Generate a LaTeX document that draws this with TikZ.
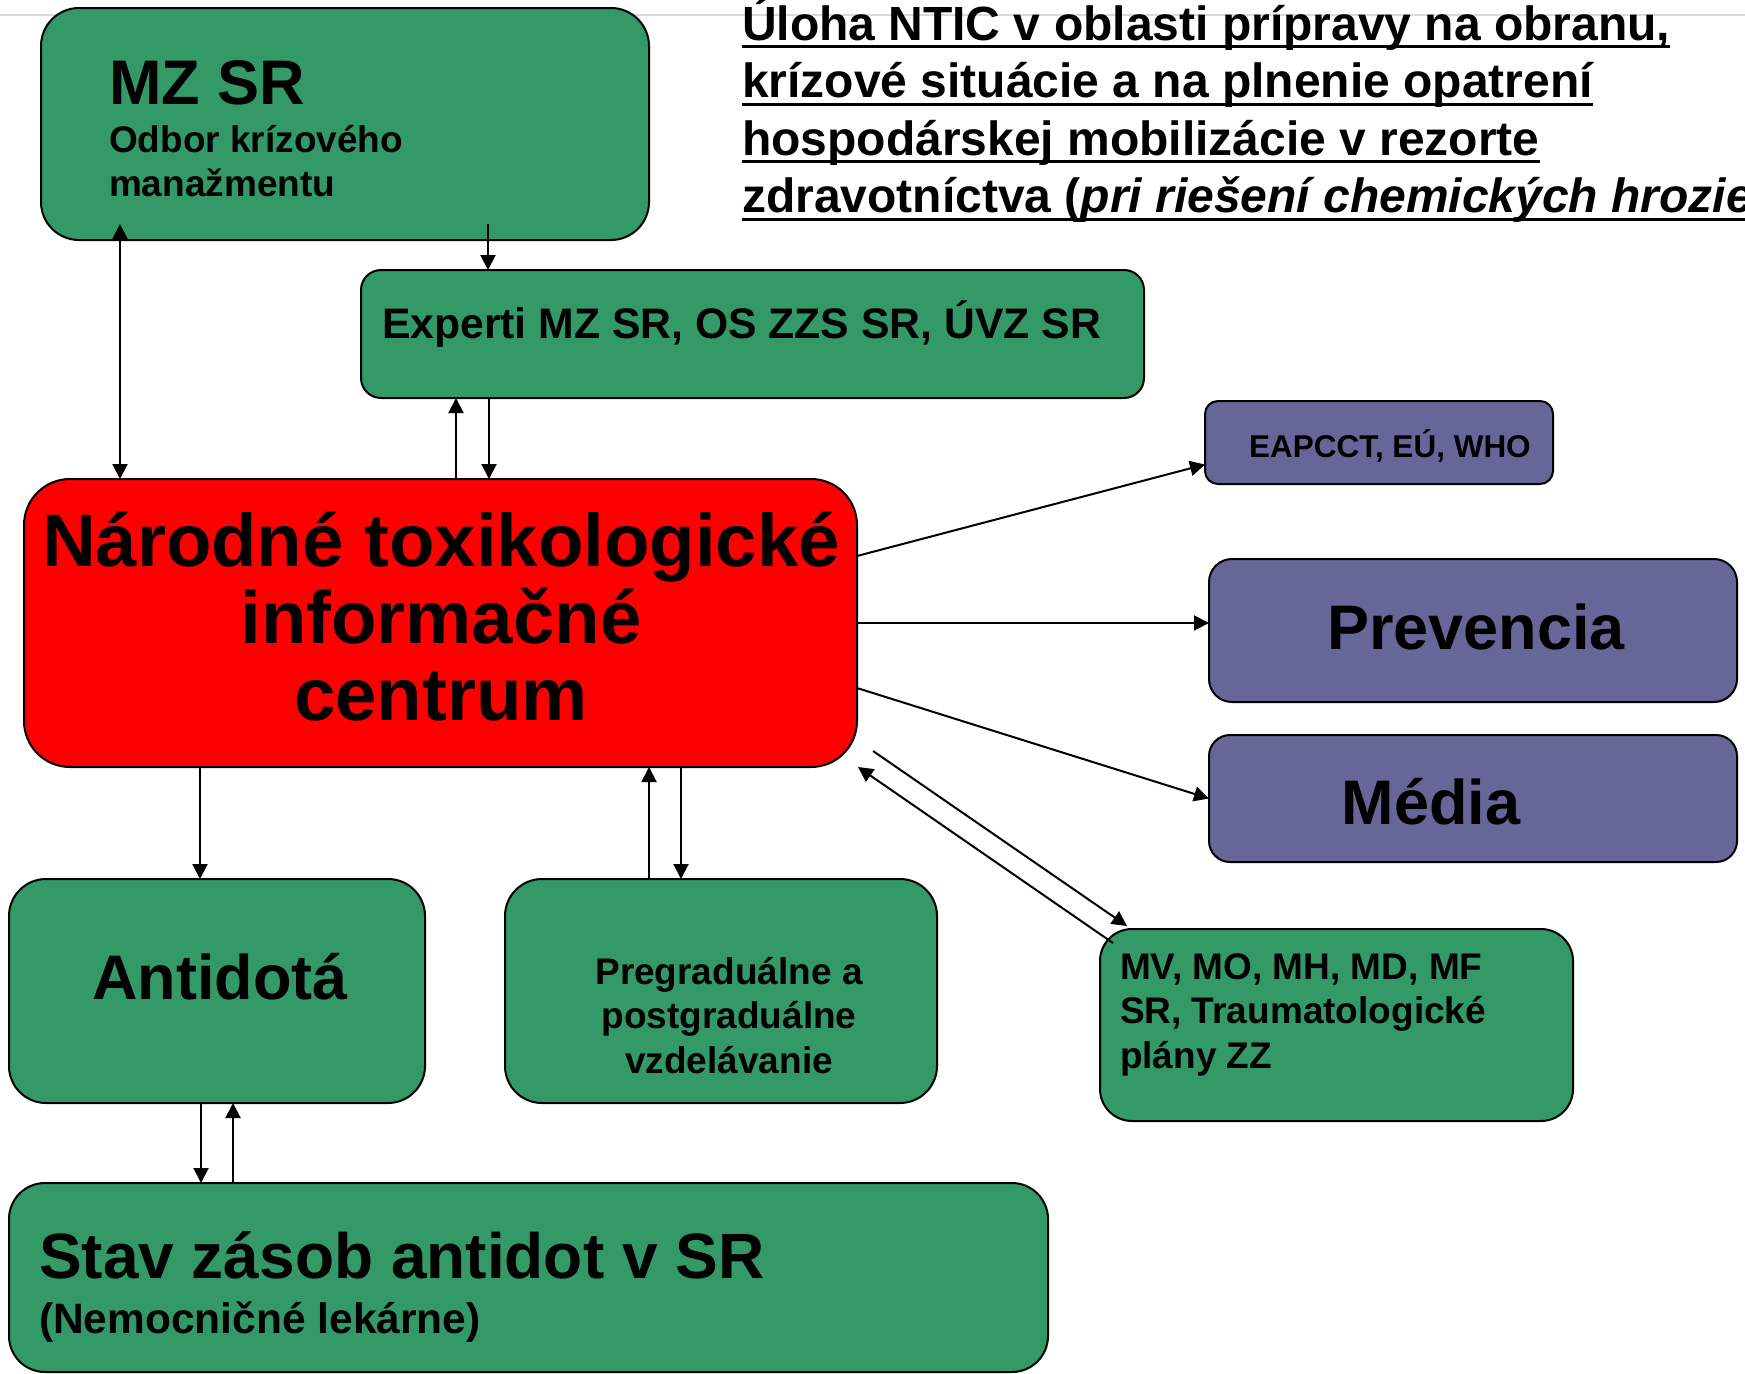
\documentclass[tikz,border=0pt]{standalone}
\usepackage{fontspec}
\setmainfont{Liberation Sans}
\usetikzlibrary{arrows.meta,calc}
\definecolor{boxgreen}{HTML}{339966}
\definecolor{boxred}{HTML}{FF0000}
\definecolor{boxpurple}{HTML}{666699}
\definecolor{topline}{HTML}{DADADA}
\newcommand\fs[2]{\fontsize{#1}{#2}\selectfont}
\newcommand\linesL[2]{\vtop{\baselineskip=#1\relax\lineskiplimit=-1000pt\lineskip=0pt\halign{##\hfil\cr#2\crcr}}}
\newcommand\linesC[2]{\vtop{\baselineskip=#1\relax\lineskiplimit=-1000pt\lineskip=0pt\halign{\hfil##\hfil\cr#2\crcr}}}
\newcommand\myul[1]{\setbox0=\hbox{#1}\rlap{\rule[-0.17em]{\wd0}{0.065em}}\box0}
\tikzset{
  box/.style={draw=black, line width=2pt, inner sep=0pt, outer sep=0pt},
  greenbox/.style={box, fill=boxgreen},
  redbox/.style={box, fill=boxred},
  purplebox/.style={box, fill=boxpurple},
  txt/.style={inner sep=0pt, outer sep=0pt, text=black},
  conn/.style={line width=2pt, -{Triangle[length=15pt,width=15pt]}},
  conntwo/.style={line width=2pt, {Triangle[length=15pt,width=15pt]}-{Triangle[length=15pt,width=15pt]}},
}
\begin{document}
\begin{tikzpicture}[x=1pt,y=-1pt]
\useasboundingbox (0,0) rectangle (1745,1373);
\fill[white] (0,0) rectangle (1745,1373);
\clip (0,0) rectangle (1745,1373);
\draw[topline, line width=2pt] (0,15) -- (1745,15);

% boxes
\node[greenbox, rounded corners=38pt, minimum width=608pt, minimum height=232pt] (mz) at (345,124) {};
\node[greenbox, rounded corners=20pt, minimum width=783pt, minimum height=128pt] (exp) at (752.5,334) {};
\node[purplebox, rounded corners=13pt, minimum width=348pt, minimum height=83pt] (eap) at (1379,442.5) {};
\node[redbox, rounded corners=46pt, minimum width=833pt, minimum height=288pt] (ntic) at (440.5,623) {};
\node[purplebox, rounded corners=23pt, minimum width=528pt, minimum height=143pt] (prev) at (1473,630.5) {};
\node[purplebox, rounded corners=21pt, minimum width=528pt, minimum height=127pt] (med) at (1473,798.5) {};
\node[greenbox, rounded corners=37pt, minimum width=416pt, minimum height=224pt] (anti) at (217,991) {};
\node[greenbox, rounded corners=37pt, minimum width=432pt, minimum height=224pt] (preg) at (721,991) {};
\node[greenbox, rounded corners=32pt, minimum width=473pt, minimum height=192pt] (mv) at (1336.5,1025) {};
\node[greenbox, rounded corners=36pt, minimum width=1039pt, minimum height=189pt] (stav) at (528.5,1277.5) {};

% texts
\node[txt, anchor=base west, font={\bfseries\fs{63pt}{63pt}}] (mzt) at (109,104) {MZ SR};
\node[txt, anchor=base west, font={\bfseries\fs{37pt}{44.5pt}}] (mzsub) at (109,152) {\linesL{44.5pt}{Odbor krízového\cr manažmentu}};
\node[txt, anchor=base west, font={\bfseries\fs{48pt}{57.5pt}}] (title) at (742,40) {\linesL{57.5pt}{\myul{Úloha NTIC v oblasti prípravy na obranu,}\cr \myul{krízové situácie a na plnenie opatrení}\cr \myul{hospodárskej mobilizácie v rezorte}\cr \myul{zdravotníctva (\textit{pri riešení chemických hrozieb)}}}};
\node[txt, anchor=base west, font={\bfseries\fs{42.7pt}{50pt}}] (expt) at (382,338) {Experti MZ SR, OS ZZS SR, ÚVZ SR};
\node[txt, anchor=base west, font={\bfseries\fs{31.5pt}{38pt}}] (eapt) at (1249,457) {EAPCCT, EÚ, WHO};
\node[txt, anchor=base, font={\bfseries\fs{74.4pt}{77pt}}] (ntict) at (441,566) {\linesC{77pt}{Národné toxikologické\cr informačné\cr centrum}};
\node[txt, anchor=base, font={\bfseries\fs{63pt}{63pt}}] (prevt) at (1476,649) {Prevencia};
\node[txt, anchor=base, font={\bfseries\fs{63pt}{63pt}}] (medt) at (1431,824) {Média};
\node[txt, anchor=base, font={\bfseries\fs{63pt}{63pt}}] (antit) at (220,999) {Antidotá};
\node[txt, anchor=base, font={\bfseries\fs{37pt}{44.5pt}}] (pregt) at (729,984) {\linesC{44.5pt}{Pregraduálne a\cr postgraduálne\cr vzdelávanie}};
\node[txt, anchor=base west, font={\bfseries\fs{37pt}{44.5pt}}] (mvt) at (1120,979) {\linesL{44.5pt}{MV, MO, MH, MD, MF\cr SR, Traumatologické\cr plány ZZ}};
\node[txt, anchor=base west, font={\bfseries\fs{64pt}{64pt}}] (stavt) at (39,1278) {Stav zásob antidot v SR};
\node[txt, anchor=base west, font={\bfseries\fs{42.5pt}{50pt}}] (stavsub) at (39,1333) {(Nemocničné lekárne)};

% connectors
\draw[conntwo] ([xshift=79pt,yshift=16pt]mz.south west) -- ([xshift=96pt]ntic.north west);
\draw[conn] ([xshift=447pt,yshift=16pt]mz.south west) -- ([xshift=127pt]exp.north west);
\draw[conn] ([xshift=432pt]ntic.north west) -- ([xshift=95pt]exp.south west);
\draw[conn] ([xshift=128pt]exp.south west) -- ([xshift=465pt]ntic.north west);
\draw[conn] ([yshift=67pt]ntic.east) -- ([yshift=-22pt]eap.west);
\draw[conn] (ntic.east) -- (ntic.east -| prev.west);
\draw[conn] ([yshift=-65pt]ntic.east) -- (med.west);
\draw[conn] ([xshift=16pt,yshift=16pt]ntic.south east) -- ([xshift=27pt,yshift=3pt]mv.north west);
\draw[conn] ([xshift=13pt,yshift=-14pt]mv.north west) -- ([xshift=1pt]ntic.south east);
\draw[conn] ([xshift=176pt]ntic.south west) -- ([xshift=191pt]anti.north west);
\draw[conn] ([xshift=144pt]preg.north west) -- ([xshift=625pt]ntic.south west);
\draw[conn] ([xshift=657pt]ntic.south west) -- ([xshift=176pt]preg.north west);
\draw[conn] ([xshift=192pt]anti.south west) -- ([xshift=192pt]stav.north west);
\draw[conn] ([xshift=224pt]stav.north west) -- ([xshift=224pt]anti.south west);
\end{tikzpicture}
\end{document}
